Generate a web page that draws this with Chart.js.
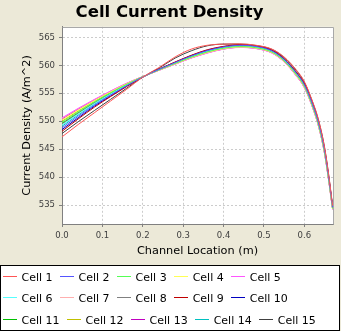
<!DOCTYPE html>
<html>
<head>
<meta charset="utf-8">
<script src="https://cdn.jsdelivr.net/npm/chart.js@4.4.0/dist/chart.umd.min.js"></script>
<style>
  html, body { margin: 0; padding: 0; background: #ece9d8; }
  #wrap { width: 341px; height: 331px; }
</style>
</head>
<body>
<div id="wrap"><canvas id="densityChart" width="341" height="331"></canvas></div>
<script>
  'use strict';

  // channel location (m)
  var channelLocation = [0, 0.04, 0.08, 0.12, 0.16, 0.20, 0.24, 0.28, 0.32, 0.36, 0.40,
                         0.44, 0.48, 0.52, 0.55, 0.58, 0.60, 0.62, 0.635, 0.65, 0.66, 0.67];

  // current density (A/m^2) per cell
  var cell1  = [547.2, 549.4, 551.5, 553.6, 555.7, 557.9, 559.6, 561.5, 562.9, 563.6, 563.8, 563.85, 563.6, 562.9, 561.5, 559.2, 557.1, 553.6, 550.3, 545.4, 540.6, 534.9];
  var cell2  = [548.8, 550.88, 552.85, 554.65, 556.35, 557.93, 559.25, 560.5, 561.68, 562.65, 563.28, 563.58, 563.38, 562.58, 561.05, 558.63, 556.53, 553.03, 549.7, 544.8, 540.03, 534.58];
  var cell3  = [549.8, 551.67, 553.44, 555.07, 556.6, 557.97, 559.17, 560.33, 561.46, 562.4, 563.06, 563.36, 563.16, 562.36, 560.8, 558.33, 556.23, 552.73, 549.36, 544.46, 539.73, 534.36];
  var cell4  = [550.2, 551.98, 553.66, 555.23, 556.7, 557.98, 559.13, 560.27, 561.38, 562.3, 562.98, 563.28, 563.08, 562.28, 560.7, 558.22, 556.12, 552.62, 549.24, 544.34, 539.62, 534.28];
  var cell5  = [550.6, 552.3, 553.9, 555.4, 556.8, 558.0, 559.1, 560.2, 561.3, 562.2, 562.9, 563.2, 563.0, 562.2, 560.6, 558.1, 556.0, 552.5, 549.1, 544.2, 539.5, 534.2];
  var cell6  = [549.3, 551.27, 553.14, 554.86, 556.48, 557.95, 559.21, 560.42, 561.57, 562.52, 563.17, 563.47, 563.27, 562.47, 560.92, 558.48, 556.38, 552.88, 549.53, 544.63, 539.88, 534.47];
  var cell7  = [550.5, 552.22, 553.84, 555.36, 556.78, 558.0, 559.11, 560.22, 561.32, 562.22, 562.92, 563.22, 563.02, 562.22, 560.62, 558.13, 556.03, 552.53, 549.13, 544.23, 539.53, 534.22];
  var cell8  = [549.5, 551.43, 553.26, 554.94, 556.52, 557.95, 559.19, 560.38, 561.53, 562.48, 563.13, 563.43, 563.23, 562.43, 560.88, 558.42, 556.32, 552.82, 549.47, 544.57, 539.82, 534.43];
  var cell9  = [548.2, 550.4, 552.5, 554.4, 556.2, 557.9, 559.3, 560.6, 561.8, 562.8, 563.4, 563.7, 563.5, 562.7, 561.2, 558.8, 556.7, 553.2, 549.9, 545.0, 540.2, 534.7];
  var cell10 = [548.5, 550.6, 552.7, 554.5, 556.3, 557.9, 559.3, 560.55, 561.74, 562.72, 563.34, 563.64, 563.44, 562.64, 561.13, 558.71, 556.61, 553.11, 549.8, 544.9, 540.11, 534.64];
  var cell11 = [549.6, 551.5, 553.31, 554.98, 556.55, 557.96, 559.18, 560.37, 561.51, 562.45, 563.11, 563.41, 563.21, 562.41, 560.85, 558.39, 556.29, 552.79, 549.44, 544.54, 539.79, 534.41];
  var cell12 = [550.0, 551.83, 553.55, 555.15, 556.65, 557.98, 559.15, 560.3, 561.42, 562.35, 563.02, 563.32, 563.12, 562.32, 560.75, 558.27, 556.17, 552.67, 549.3, 544.4, 539.67, 534.32];
  var cell13 = [550.4, 552.15, 553.79, 555.32, 556.75, 557.99, 559.12, 560.23, 561.34, 562.25, 562.94, 563.24, 563.04, 562.24, 560.65, 558.16, 556.06, 552.56, 549.16, 544.26, 539.56, 534.24];
  var cell14 = [549.1, 551.11, 553.03, 554.78, 556.43, 557.94, 559.22, 560.45, 561.61, 562.57, 563.21, 563.51, 563.31, 562.51, 560.98, 558.54, 556.44, 552.94, 549.6, 544.7, 539.94, 534.51];
  var cell15 = [547.8, 549.9, 551.9, 553.9, 555.9, 557.9, 559.5, 561.3, 562.6, 563.5, 563.8, 563.8, 563.55, 562.85, 561.4, 559.1, 557.0, 553.5, 550.2, 545.3, 540.5, 534.8];

  var cellNames = ['Cell 1', 'Cell 2', 'Cell 3', 'Cell 4', 'Cell 5', 'Cell 6', 'Cell 7', 'Cell 8',
                   'Cell 9', 'Cell 10', 'Cell 11', 'Cell 12', 'Cell 13', 'Cell 14', 'Cell 15'];
  var cellValues = [cell1, cell2, cell3, cell4, cell5, cell6, cell7, cell8,
                    cell9, cell10, cell11, cell12, cell13, cell14, cell15];
  var cellColors = ['#ff5555', '#5555ff', '#55ff55', '#ffff55', '#ff55ff', '#55ffff', '#ffafaf', '#808080',
                    '#c00000', '#0000c0', '#00c000', '#c0c000', '#c000c0', '#00c0c0', '#404040'];

  var datasets = [];
  for (var i = 0; i < cellNames.length; i++) {
    var pts = [];
    for (var j = 0; j < channelLocation.length; j++) {
      pts.push({ x: channelLocation[j], y: cellValues[i][j] });
    }
    datasets.push({
      label: cellNames[i],
      data: pts,
      borderColor: cellColors[i],
      backgroundColor: cellColors[i],
      borderWidth: 1,
      pointRadius: 0,
      fill: false,
      cubicInterpolationMode: 'monotone'
    });
  }

  // white plot area + outline
  var plotBackground = {
    id: 'plotBackground',
    beforeDraw: function (chart) {
      var ctx = chart.ctx, a = chart.chartArea;
      ctx.save();
      ctx.fillStyle = '#ece9d8';
      ctx.fillRect(0, 0, chart.width, chart.height);
      ctx.fillStyle = '#ffffff';
      ctx.fillRect(a.left, a.top, a.right - a.left, a.bottom - a.top);
      ctx.restore();
    },
    afterDatasetsDraw: function (chart) {
      var ctx = chart.ctx, a = chart.chartArea;
      ctx.save();
      ctx.strokeStyle = '#a8a8a8';
      ctx.lineWidth = 1;
      ctx.beginPath();
      ctx.moveTo(Math.round(a.left) + 0.5, Math.round(a.top) + 0.5);
      ctx.lineTo(Math.round(a.right) + 0.5, Math.round(a.top) + 0.5);
      ctx.lineTo(Math.round(a.right) + 0.5, Math.round(a.bottom) + 0.5);
      ctx.stroke();
      ctx.restore();
    }
  };

  // boxed legend at the bottom, five items per row
  var boxedLegend = {
    id: 'boxedLegend',
    afterDraw: function (chart) {
      var ctx = chart.ctx;
      ctx.save();
      ctx.fillStyle = '#ffffff';
      ctx.fillRect(0, 265, 340, 66);
      ctx.strokeStyle = '#000000';
      ctx.lineWidth = 1;
      ctx.strokeRect(0.5, 265.5, 339, 65);
      ctx.font = '11px "DejaVu Sans"';
      ctx.textBaseline = 'alphabetic';
      var sets = chart.data.datasets;
      var x = 3, row = 0;
      for (var k = 0; k < sets.length; k++) {
        if (k > 0 && k % 5 === 0) { row++; x = 3; }
        var base = 280.5 + row * 21.7;
        // legend line sample
        ctx.fillStyle = cellColors[k];
        ctx.fillRect(Math.round(x), Math.round(base - 5), 14, 1);
        ctx.fillStyle = '#000000';
        ctx.fillText(sets[k].label, x + 18.5, base);
        x += 18.5 + ctx.measureText(sets[k].label).width + 7.5;
      }
      ctx.restore();
    }
  };

  new Chart(document.getElementById('densityChart').getContext('2d'), {
    type: 'line',
    data: { datasets: datasets },
    options: {
      responsive: false,
      animation: false,
      layout: { padding: { left: 6, right: 8, top: 0, bottom: 71 } },
      plugins: {
        legend: { display: false },
        tooltip: { enabled: false },
        title: {
          display: true,
          text: 'Cell Current Density',
          color: '#000000',
          font: { family: '"DejaVu Sans"', size: 16.5, weight: 'bold', lineHeight: 1.2 },
          padding: { top: 3, bottom: 4 }
        }
      },
      scales: {
        x: {
          type: 'linear',
          min: 0,
          max: 0.671,
          afterFit: function (s) { s.height = 36; },
          ticks: {
            stepSize: 0.1,
            includeBounds: false,
            maxRotation: 0,
            padding: 4,
            color: '#404040',
            font: { family: '"DejaVu Sans"', size: 8.5 },
            callback: function (v) { return v.toFixed(1); }
          },
          grid: { color: '#cccccc', tickColor: '#808080', tickLength: 3 },
          border: { color: '#808080', dash: [2, 2] },
          title: {
            display: true,
            text: 'Channel Location (m)',
            color: '#000000',
            font: { family: '"DejaVu Sans"', size: 11.3 },
            padding: { top: 4, bottom: 2 }
          }
        },
        y: {
          min: 531.6,
          max: 566.9,
          afterFit: function (s) { s.width = 56; },
          ticks: {
            stepSize: 5,
            includeBounds: false,
            padding: 4,
            color: '#404040',
            font: { family: '"DejaVu Sans"', size: 8.5 }
          },
          grid: { color: '#cccccc', tickColor: '#808080', tickLength: 3 },
          border: { color: '#808080', dash: [2, 2] },
          title: {
            display: true,
            text: 'Current Density (A/m^2)',
            color: '#000000',
            font: { family: '"DejaVu Sans"', size: 11.3 },
            padding: { top: 14, bottom: 4 }
          }
        }
      }
    },
    plugins: [plotBackground, boxedLegend]
  });
</script>
</body>
</html>
